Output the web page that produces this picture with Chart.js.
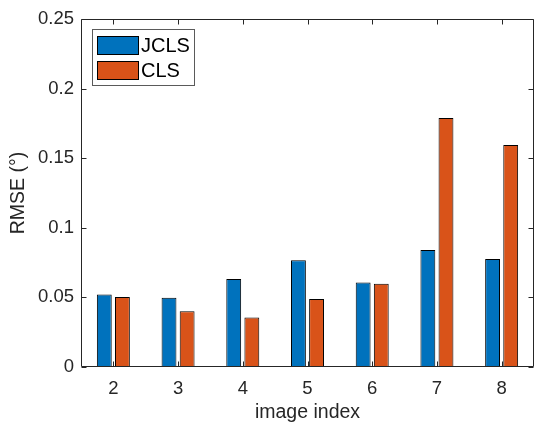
<!DOCTYPE html>
<html><head><meta charset="utf-8">
<script src="https://cdn.jsdelivr.net/npm/chart.js@4/dist/chart.umd.min.js"></script>
<style>html,body{margin:0;padding:0;background:#fff;}#wrap{width:536px;height:424px;position:relative;}</style>
</head><body><div id="wrap"><canvas id="c" width="536" height="424"></canvas></div>
<script>
const categories = ['2','3','4','5','6','7','8'];
const jclsValues = [0.0521,0.0497,0.0632,0.0766,0.0607,0.0841,0.0776];
const clsValues = [0.0502,0.0401,0.0355,0.0488,0.0598,0.1789,0.1594];
const yTicks = [0,0.05,0.1,0.15,0.2,0.25];
const seriesNames = ['JCLS','CLS'];
const seriesColors = ['#0072BD','#D95319'];
const xTitle = 'image index';
const yTitle = 'RMSE (°)';

const FONT = "'Liberation Sans', Arial, Helvetica, sans-serif";
const AX = '#262626';

const boxPlugin = {
  id:'box',
  afterDraw(chart){
    const ctx = chart.ctx, a = chart.chartArea;
    const xs = chart.scales.x, ys = chart.scales.y;
    const L = Math.round(a.left)+0.5, R = Math.round(a.right)-0.5, T = Math.round(a.top)+0.5, B = Math.round(a.bottom)-0.5;
    ctx.save();
    ctx.strokeStyle = AX; ctx.lineWidth = 1;
    ctx.beginPath();
    ctx.rect(L, T, R-L, B-T);
    const tl = 5;
    categories.forEach((c,i)=>{
      const x = Math.round(xs.getPixelForValue(i))+0.5;
      ctx.moveTo(x,B); ctx.lineTo(x,B-tl);
      ctx.moveTo(x,T); ctx.lineTo(x,T+tl);
    });
    yTicks.forEach(v=>{
      const y = Math.round(ys.getPixelForValue(v))+0.5;
      ctx.moveTo(L,y); ctx.lineTo(L+tl,y);
      ctx.moveTo(R,y); ctx.lineTo(R-tl,y);
    });
    ctx.stroke();
    // legend
    const lx = 92.5, ly = 29.5, lw = 102, lh = 56;
    ctx.fillStyle = '#fff';
    ctx.fillRect(lx, ly, lw, lh);
    ctx.strokeStyle = '#5a5a5a';
    ctx.strokeRect(lx, ly, lw, lh);
    chart.data.datasets.forEach((ds,i)=>{
      const sy = 36 + i*25;
      ctx.fillStyle = ds.backgroundColor;
      ctx.fillRect(97, sy, 42, 19);
      ctx.strokeStyle = '#000';
      ctx.strokeRect(97.5, sy+0.5, 41, 18);
      ctx.fillStyle = '#000';
      ctx.font = '20px ' + FONT;
      ctx.textBaseline = 'middle';
      ctx.textAlign = 'left';
      ctx.fillText(ds.label, 141, sy + 10);
    });
    ctx.restore();
  }
};

new Chart(document.getElementById('c'), {
  type:'bar',
  data:{
    labels: categories,
    datasets:[
      {label: seriesNames[0], data: jclsValues, backgroundColor: seriesColors[0], borderColor:'#000', borderWidth:1, borderSkipped:false},
      {label: seriesNames[1], data: clsValues, backgroundColor: seriesColors[1], borderColor:'#000', borderWidth:1, borderSkipped:false}
    ]
  },
  options:{
    responsive:false, animation:false, devicePixelRatio:1,
    categoryPercentage:0.56, barPercentage:0.82,
    layout:{padding:{top:19,right:2,left:0,bottom:0}},
    plugins:{legend:{display:false}, tooltip:{enabled:false}},
    scales:{
      x:{
        grid:{display:false, drawTicks:false}, border:{display:false},
        ticks:{color:AX, font:{family:FONT,size:18.5}, padding:11, maxRotation:0},
        title:{display:true, text:xTitle, color:AX, font:{family:FONT,size:19.5}, padding:{top:0,bottom:0}},
        afterFit(s){ s.height = 57; }
      },
      y:{
        min:0, max:0.25,
        grid:{display:false, drawTicks:false}, border:{display:false},
        afterBuildTicks(s){ s.ticks = yTicks.map(v=>({value:v})); },
        ticks:{color:AX, font:{family:FONT,size:18.5}, padding:7, callback:(v)=>String(+Number(v).toFixed(2))},
        title:{display:true, text:yTitle, color:AX, font:{family:FONT,size:19.5}, padding:{top:7,bottom:0}},
        afterFit(s){ s.width = 81; }
      }
    }
  },
  plugins:[boxPlugin]
});
</script></body></html>
